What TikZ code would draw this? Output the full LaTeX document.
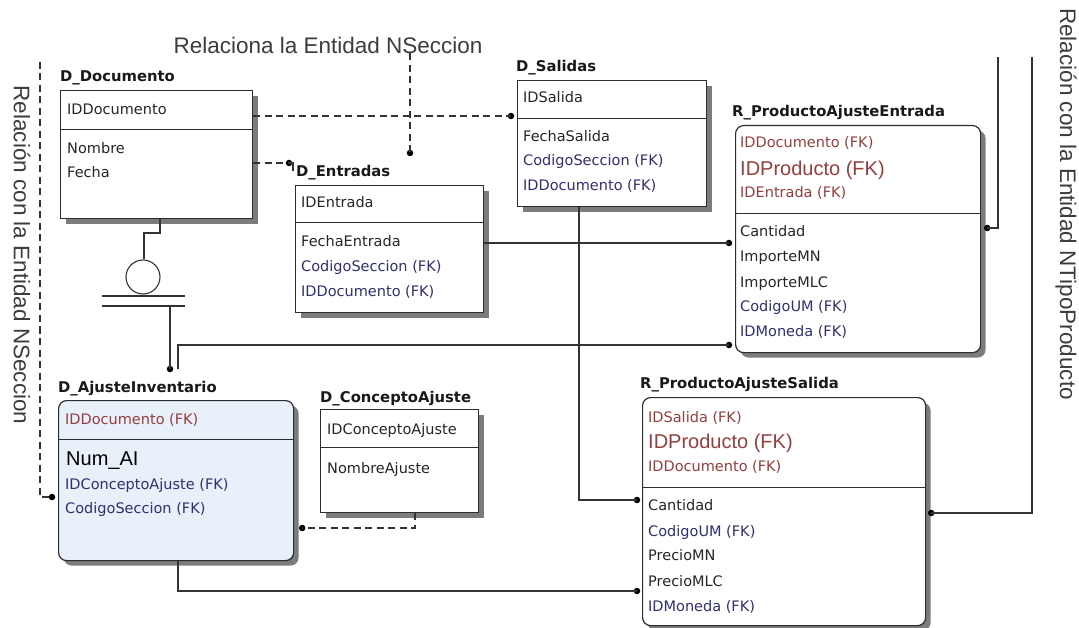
\documentclass[tikz,border=0pt]{standalone}
\usepackage{fontspec}
\setmainfont{DejaVu Sans}
\newfontfamily\arialf{Liberation Sans}
\usetikzlibrary{calc,shadows}
\definecolor{boxline}{RGB}{45,45,45}
\definecolor{fkred}{RGB}{150,62,62}
\definecolor{fkblue}{RGB}{48,48,112}
\definecolor{ajufill}{RGB}{232,240,250}
\definecolor{lblgray}{RGB}{60,60,60}
\begin{document}
\begin{tikzpicture}[x=1pt,y=-1pt,
  box/.style={draw=boxline, line width=1.2pt, fill=white, anchor=north west, inner sep=0pt,
    drop shadow={shadow xshift=5pt, shadow yshift=-5pt, fill=black!60, opacity=.85}},
  rbox/.style={box, rounded corners=8pt},
  ttl/.style={anchor=base west, inner sep=0pt, font=\fontsize{14.8}{17}\selectfont\bfseries, text=black!90},
  fld/.style={anchor=base west, inner sep=0pt, font=\fontsize{14.5}{17}\selectfont, text=black!85},
  fkr/.style={fld, text=fkred},
  fkb/.style={fld, text=fkblue},
  big/.style={font=\arialf\fontsize{20}{23}\selectfont},
  lbl/.style={inner sep=0pt, font=\arialf\fontsize{22.5}{25}\selectfont, text=lblgray},
  sep/.style={draw=boxline, line width=1pt},
  rel/.style={draw=black!80, line width=1.1pt},
  rdash/.style={rel, dash pattern=on 7pt off 4.5pt},
  dot/.style={circle, fill=black, inner sep=0pt, minimum size=6.5pt}
]
\useasboundingbox (0,0) rectangle (1079,628);
\fill[white] (0,0) rectangle (1079,628);

% ---------- entity boxes ----------
\node[box, minimum width=192pt, minimum height=128pt] (doc) at (60,90) {};
\node[box, minimum width=188pt, minimum height=127pt] (ent) at (295,185) {};
\node[box, minimum width=189pt, minimum height=126pt] (sal) at (517,80) {};
\node[rbox, minimum width=245pt, minimum height=227pt] (rpae) at (735,125) {};
\node[rbox, fill=ajufill, minimum width=235pt, minimum height=160pt] (aju) at (58,400) {};
\node[box, minimum width=158pt, minimum height=103pt] (con) at (320,409) {};
\node[rbox, minimum width=283pt, minimum height=228pt] (rpas) at (642,397) {};

% key / attribute dividers
\draw[sep] (doc.west |- 0,130) -- (doc.east |- 0,130);
\draw[sep] (ent.west |- 0,223) -- (ent.east |- 0,223);
\draw[sep] (sal.west |- 0,119) -- (sal.east |- 0,119);
\draw[sep] (rpae.west |- 0,214) -- (rpae.east |- 0,214);
\draw[sep] (aju.west |- 0,439) -- (aju.east |- 0,439);
\draw[sep] (con.west |- 0,447) -- (con.east |- 0,447);
\draw[sep] (rpas.west |- 0,487) -- (rpas.east |- 0,487);

% ---------- titles ----------
\node[ttl] (docT) at (60,82) {D\_Documento};
\node[ttl] (entT) at (296,177) {D\_Entradas};
\node[ttl] (salT) at (516,72) {D\_Salidas};
\node[ttl] (rpaeT) at (732,117) {R\_ProductoAjusteEntrada};
\node[ttl] (ajuT) at (58,392) {D\_AjusteInventario};
\node[ttl] (conT) at (320,402) {D\_ConceptoAjuste};
\node[ttl] (rpasT) at (640,388) {R\_ProductoAjusteSalida};

% ---------- attributes ----------
\node[fld] (doc1) at (67,115) {IDDocumento};
\node[fld] (doc2) at (67,154) {Nombre};
\node[fld] (doc3) at (67,178) {Fecha};

\node[fld] (ent1) at (301,208) {IDEntrada};
\node[fld] (ent2) at (301,247) {FechaEntrada};
\node[fkb] (ent3) at (301,272) {CodigoSeccion (FK)};
\node[fkb] (ent4) at (301,297) {IDDocumento (FK)};

\node[fld] (sal1) at (523,103) {IDSalida};
\node[fld] (sal2) at (523,142) {FechaSalida};
\node[fkb] (sal3) at (523,166) {CodigoSeccion (FK)};
\node[fkb] (sal4) at (523,191) {IDDocumento (FK)};

\node[fkr] (rpae1) at (740,148) {IDDocumento (FK)};
\node[fkr, big] (rpae2) at (740,176) {IDProducto (FK)};
\node[fkr] (rpae3) at (740,198) {IDEntrada (FK)};
\node[fld] (rpae4) at (740,237) {Cantidad};
\node[fld] (rpae5) at (740,262) {ImporteMN};
\node[fld] (rpae6) at (740,288) {ImporteMLC};
\node[fkb] (rpae7) at (740,312) {CodigoUM (FK)};
\node[fkb] (rpae8) at (740,337) {IDMoneda (FK)};

\node[fkr] (aju1) at (65,424) {IDDocumento (FK)};
\node[fld, big, text=black] (aju2) at (66,465) {Num\_AI};
\node[fkb] (aju3) at (65,489) {IDConceptoAjuste (FK)};
\node[fkb] (aju4) at (65,513) {CodigoSeccion (FK)};

\node[fld] (con1) at (327,434) {IDConceptoAjuste};
\node[fld] (con2) at (327,473) {NombreAjuste};

\node[fkr] (rpas1) at (648,422) {IDSalida (FK)};
\node[fkr, big] (rpas2) at (648,448) {IDProducto (FK)};
\node[fkr] (rpas3) at (648,471) {IDDocumento (FK)};
\node[fld] (rpas4) at (648,510) {Cantidad};
\node[fkb] (rpas5) at (648,536) {CodigoUM (FK)};
\node[fld] (rpas6) at (648,560) {PrecioMN};
\node[fld] (rpas7) at (648,586) {PrecioMLC};
\node[fkb] (rpas8) at (648,611) {IDMoneda (FK)};

% ---------- external-entity notes ----------
\node[lbl] (relA) at (328,45) {Relaciona la Entidad NSeccion};
\node[lbl, rotate=-90] (relL) at (22,255) {Relación con la Entidad NSeccion};
\node[lbl, rotate=-90] (relR) at (1066,204) {Relación con la Entidad NTipoProducto};

% ---------- relationship end points ----------
\node[dot] (dSal) at ([xshift=-6pt]sal.west |- 0,116) {};
\node[dot] (dEnt) at (289,163) {};
\node[dot] (dSec) at (410,153) {};
\node[dot] (dSecL) at ([xshift=-6pt]aju.west |- 0,497) {};
\node[dot] (dEntP) at ([xshift=-6pt]rpae.west |- 0,243) {};
\node[dot] (dSalP) at ([xshift=-5pt]rpas.west |- 0,500) {};
\node[dot] (dSub) at (170,369) {};
\node[dot] (dAjuE) at ([xshift=-6pt]rpae.west |- 0,345) {};
\node[dot] (dAjuS) at ([xshift=-5pt]rpas.west |- 0,591) {};
\node[dot] (dCon) at ([xshift=8pt]aju.east |- 0,528) {};
\node[dot] (dTpE) at ([xshift=6pt]rpae.east |- 0,228) {};
\node[dot] (dTpS) at ([xshift=5pt]rpas.east |- 0,513) {};
\coordinate (secL) at (40,62);
\coordinate (tpA) at (998,57);
\coordinate (tpB) at (1032,57);

% ---------- non-identifying (dashed) relationships ----------
\draw[rdash] (doc.east |- dSal) -- (dSal.center);
\draw[rdash] (doc.east |- dEnt) -- (dEnt.center);
\draw[rel] (dEnt.center) -| (293,171);
\draw[rdash] (relA.south -| dSec) -- (dSec.center);
\draw[rdash] (secL) |- (dSecL.center);
\draw[rdash] (con.south -| 415,0) |- (dCon.center);

% ---------- identifying (solid) relationships ----------
\draw[rel] (ent.east |- dEntP) -- (dEntP.center);
\draw[rel] (sal.south -| 579,0) |- (dSalP.center);
\draw[rel] ([xshift=8pt]dSub.center) |- (dAjuE.center);
\draw[rel] (aju.south -| 178,0) |- (dAjuS.center);
\draw[rel] (tpA) |- (dTpE.center);
\draw[rel] (tpB) |- (dTpS.center);

% ---------- subtype (category) symbol ----------
\node[draw=black!80, line width=1.1pt, circle, minimum size=34pt, inner sep=0pt] (cat) at (143,277) {};
\draw[rel] (doc.south -| 160,0) -- (160,233) -- (144,233) -- (cat.north -| 144,0);
\draw[rel] (102,296) -- (185,296);
\draw[rel] (102,306) -- (185,306);
\draw[rel] (170,306) -- (dSub.center);
\end{tikzpicture}
\end{document}
